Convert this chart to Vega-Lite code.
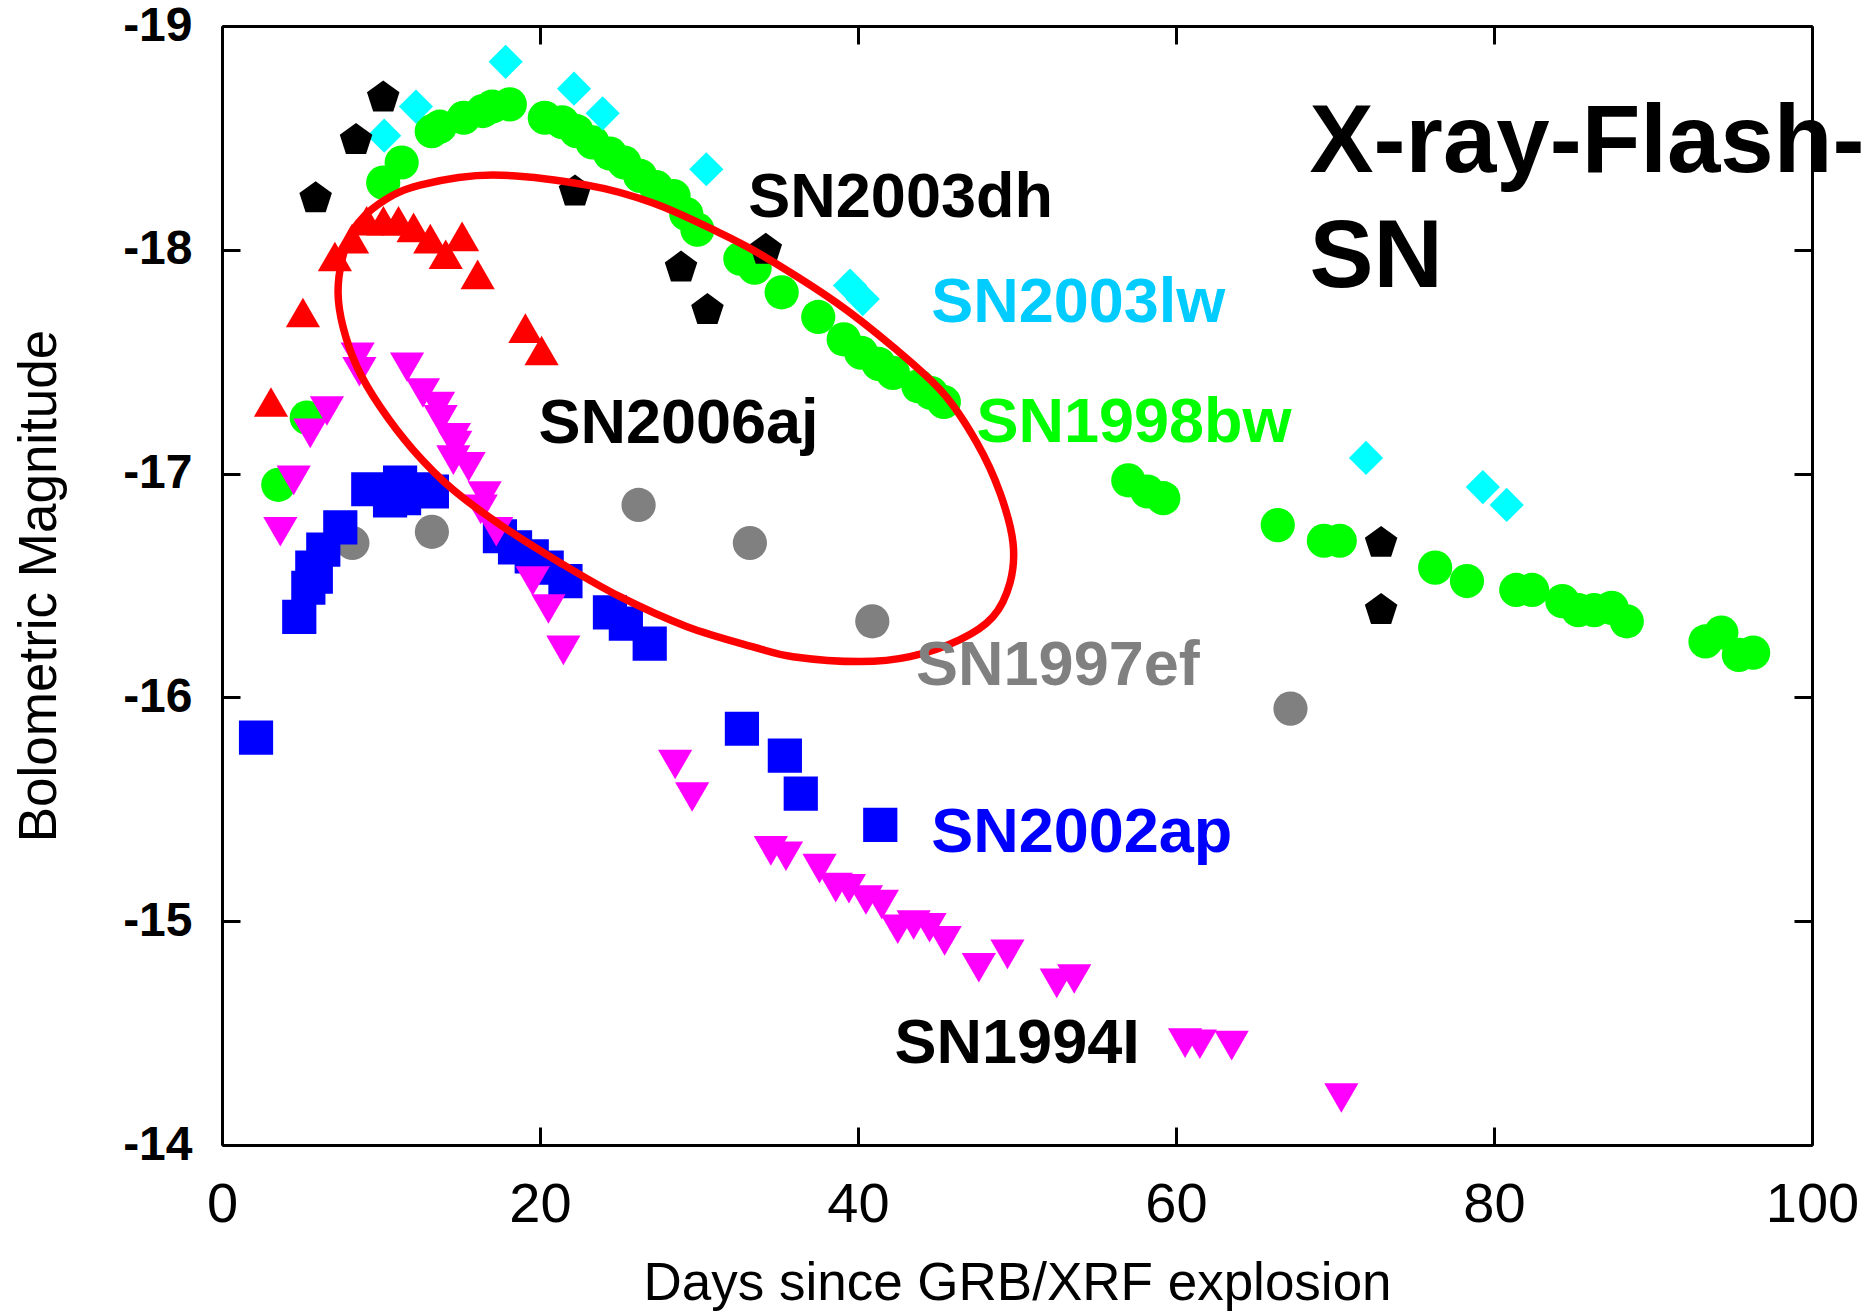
{
"$schema": "https://vega.github.io/schema/vega-lite/v6.json",
"width": 1590, "height": 1119,
"autosize": {"type": "none"},
"padding": {"left": 222, "top": 26, "right": 62, "bottom": 167},
"background": "white",
"config": {"view": {"stroke": null}, "font": "Liberation Sans"},
"datasets": {
"pts": [
{"sn":"SN1997ef","day":8.2,"mag":-16.69},{"sn":"SN1997ef","day":13.2,"mag":-16.74},{"sn":"SN1997ef","day":26.2,"mag":-16.86},{"sn":"SN1997ef","day":33.2,"mag":-16.69},{"sn":"SN1997ef","day":40.9,"mag":-16.34},{"sn":"SN1997ef","day":67.2,"mag":-15.95},
{"sn":"SN2002ap","day":2.14,"mag":-15.82},{"sn":"SN2002ap","day":4.86,"mag":-16.36},{"sn":"SN2002ap","day":5.43,"mag":-16.49},{"sn":"SN2002ap","day":5.68,"mag":-16.58},{"sn":"SN2002ap","day":5.9,"mag":-16.54},{"sn":"SN2002ap","day":6.37,"mag":-16.66},{"sn":"SN2002ap","day":7.44,"mag":-16.76},{"sn":"SN2002ap","day":9.2,"mag":-16.93},{"sn":"SN2002ap","day":10.57,"mag":-16.88},{"sn":"SN2002ap","day":11.2,"mag":-16.96},{"sn":"SN2002ap","day":11.45,"mag":-16.89},{"sn":"SN2002ap","day":12.3,"mag":-16.93},{"sn":"SN2002ap","day":13.2,"mag":-16.92},{"sn":"SN2002ap","day":17.48,"mag":-16.72},{"sn":"SN2002ap","day":18.43,"mag":-16.67},{"sn":"SN2002ap","day":19.48,"mag":-16.63},{"sn":"SN2002ap","day":20.42,"mag":-16.58},{"sn":"SN2002ap","day":21.6,"mag":-16.52},{"sn":"SN2002ap","day":24.4,"mag":-16.38},{"sn":"SN2002ap","day":25.4,"mag":-16.33},{"sn":"SN2002ap","day":26.9,"mag":-16.24},{"sn":"SN2002ap","day":32.7,"mag":-15.86},{"sn":"SN2002ap","day":35.4,"mag":-15.74},{"sn":"SN2002ap","day":36.4,"mag":-15.57},{"sn":"SN2002ap","day":41.4,"mag":-15.43},
{"sn":"SN1998bw","day":3.54,"mag":-16.95},{"sn":"SN1998bw","day":5.33,"mag":-17.25},{"sn":"SN1998bw","day":10.14,"mag":-18.3},{"sn":"SN1998bw","day":11.3,"mag":-18.39},{"sn":"SN1998bw","day":13.19,"mag":-18.53},{"sn":"SN1998bw","day":13.7,"mag":-18.55},{"sn":"SN1998bw","day":15.2,"mag":-18.59},{"sn":"SN1998bw","day":16.4,"mag":-18.62},{"sn":"SN1998bw","day":17.0,"mag":-18.64},{"sn":"SN1998bw","day":18.1,"mag":-18.65},{"sn":"SN1998bw","day":20.3,"mag":-18.59},{"sn":"SN1998bw","day":21.4,"mag":-18.57},{"sn":"SN1998bw","day":22.3,"mag":-18.53},{"sn":"SN1998bw","day":23.3,"mag":-18.48},{"sn":"SN1998bw","day":24.4,"mag":-18.43},{"sn":"SN1998bw","day":25.3,"mag":-18.39},{"sn":"SN1998bw","day":26.3,"mag":-18.33},{"sn":"SN1998bw","day":27.3,"mag":-18.28},{"sn":"SN1998bw","day":28.4,"mag":-18.24},{"sn":"SN1998bw","day":29.2,"mag":-18.16},{"sn":"SN1998bw","day":29.9,"mag":-18.09},{"sn":"SN1998bw","day":32.6,"mag":-17.96},{"sn":"SN1998bw","day":33.5,"mag":-17.92},{"sn":"SN1998bw","day":35.2,"mag":-17.81},{"sn":"SN1998bw","day":37.5,"mag":-17.7},{"sn":"SN1998bw","day":39.1,"mag":-17.6},{"sn":"SN1998bw","day":40.2,"mag":-17.54},{"sn":"SN1998bw","day":41.3,"mag":-17.49},{"sn":"SN1998bw","day":42.2,"mag":-17.45},{"sn":"SN1998bw","day":43.8,"mag":-17.39},{"sn":"SN1998bw","day":44.6,"mag":-17.36},{"sn":"SN1998bw","day":45.4,"mag":-17.32},{"sn":"SN1998bw","day":57.0,"mag":-16.97},{"sn":"SN1998bw","day":58.2,"mag":-16.92},{"sn":"SN1998bw","day":59.2,"mag":-16.89},{"sn":"SN1998bw","day":66.4,"mag":-16.77},{"sn":"SN1998bw","day":69.3,"mag":-16.7},{"sn":"SN1998bw","day":70.3,"mag":-16.7},{"sn":"SN1998bw","day":76.3,"mag":-16.58},{"sn":"SN1998bw","day":78.3,"mag":-16.52},{"sn":"SN1998bw","day":81.4,"mag":-16.48},{"sn":"SN1998bw","day":82.4,"mag":-16.48},{"sn":"SN1998bw","day":84.3,"mag":-16.43},{"sn":"SN1998bw","day":85.3,"mag":-16.39},{"sn":"SN1998bw","day":86.3,"mag":-16.39},{"sn":"SN1998bw","day":87.4,"mag":-16.4},{"sn":"SN1998bw","day":88.35,"mag":-16.34},{"sn":"SN1998bw","day":93.3,"mag":-16.25},{"sn":"SN1998bw","day":94.3,"mag":-16.29},{"sn":"SN1998bw","day":95.4,"mag":-16.19},{"sn":"SN1998bw","day":96.3,"mag":-16.2},
{"sn":"SN2003lw","day":10.2,"mag":-18.51},{"sn":"SN2003lw","day":12.2,"mag":-18.64},{"sn":"SN2003lw","day":17.84,"mag":-18.84},{"sn":"SN2003lw","day":22.14,"mag":-18.72},{"sn":"SN2003lw","day":23.94,"mag":-18.61},{"sn":"SN2003lw","day":30.46,"mag":-18.36},{"sn":"SN2003lw","day":39.5,"mag":-17.84},{"sn":"SN2003lw","day":40.3,"mag":-17.78},{"sn":"SN2003lw","day":71.95,"mag":-17.07},{"sn":"SN2003lw","day":79.3,"mag":-16.94},{"sn":"SN2003lw","day":80.8,"mag":-16.86},
{"sn":"SN2003dh","day":5.89,"mag":-18.23},{"sn":"SN2003dh","day":8.43,"mag":-18.49},{"sn":"SN2003dh","day":10.14,"mag":-18.68},{"sn":"SN2003dh","day":22.2,"mag":-18.26},{"sn":"SN2003dh","day":28.87,"mag":-17.92},{"sn":"SN2003dh","day":30.53,"mag":-17.73},{"sn":"SN2003dh","day":34.2,"mag":-18.0},{"sn":"SN2003dh","day":72.9,"mag":-16.69},{"sn":"SN2003dh","day":72.9,"mag":-16.39},
{"sn":"SN2006aj","day":3.08,"mag":-17.32},{"sn":"SN2006aj","day":5.09,"mag":-17.72},{"sn":"SN2006aj","day":7.1,"mag":-17.97},{"sn":"SN2006aj","day":8.18,"mag":-18.05},{"sn":"SN2006aj","day":9.1,"mag":-18.13},{"sn":"SN2006aj","day":10.15,"mag":-18.13},{"sn":"SN2006aj","day":11.1,"mag":-18.13},{"sn":"SN2006aj","day":12.05,"mag":-18.1},{"sn":"SN2006aj","day":13.1,"mag":-18.05},{"sn":"SN2006aj","day":14.07,"mag":-17.98},{"sn":"SN2006aj","day":15.1,"mag":-18.06},{"sn":"SN2006aj","day":16.08,"mag":-17.89},{"sn":"SN2006aj","day":19.08,"mag":-17.65},{"sn":"SN2006aj","day":20.1,"mag":-17.55},
{"sn":"SN1994I","day":3.67,"mag":-16.74},{"sn":"SN1994I","day":4.51,"mag":-16.97},{"sn":"SN1994I","day":5.55,"mag":-17.18},{"sn":"SN1994I","day":6.6,"mag":-17.28},{"sn":"SN1994I","day":8.53,"mag":-17.52},{"sn":"SN1994I","day":8.64,"mag":-17.455},{"sn":"SN1994I","day":11.64,"mag":-17.475},{"sn":"SN1994I","day":12.64,"mag":-17.36},{"sn":"SN1994I","day":13.59,"mag":-17.3},{"sn":"SN1994I","day":13.75,"mag":-17.24},{"sn":"SN1994I","day":14.59,"mag":-17.16},{"sn":"SN1994I","day":14.67,"mag":-17.125},{"sn":"SN1994I","day":14.55,"mag":-17.06},{"sn":"SN1994I","day":15.51,"mag":-17.03},{"sn":"SN1994I","day":16.27,"mag":-16.84},{"sn":"SN1994I","day":16.52,"mag":-16.9},{"sn":"SN1994I","day":17.25,"mag":-16.74},{"sn":"SN1994I","day":19.54,"mag":-16.52},{"sn":"SN1994I","day":20.53,"mag":-16.395},{"sn":"SN1994I","day":21.47,"mag":-16.21},{"sn":"SN1994I","day":28.5,"mag":-15.7},{"sn":"SN1994I","day":29.57,"mag":-15.555},{"sn":"SN1994I","day":34.52,"mag":-15.314},{"sn":"SN1994I","day":35.47,"mag":-15.29},{"sn":"SN1994I","day":37.58,"mag":-15.235},{"sn":"SN1994I","day":38.6,"mag":-15.15},{"sn":"SN1994I","day":39.43,"mag":-15.145},{"sn":"SN1994I","day":40.5,"mag":-15.095},{"sn":"SN1994I","day":41.5,"mag":-15.074},{"sn":"SN1994I","day":42.5,"mag":-14.964},{"sn":"SN1994I","day":43.5,"mag":-14.983},{"sn":"SN1994I","day":44.5,"mag":-14.971},{"sn":"SN1994I","day":45.45,"mag":-14.912},{"sn":"SN1994I","day":47.6,"mag":-14.792},{"sn":"SN1994I","day":49.4,"mag":-14.852},{"sn":"SN1994I","day":52.5,"mag":-14.722},{"sn":"SN1994I","day":53.6,"mag":-14.742},{"sn":"SN1994I","day":60.57,"mag":-14.455},{"sn":"SN1994I","day":61.5,"mag":-14.45},{"sn":"SN1994I","day":63.5,"mag":-14.444},{"sn":"SN1994I","day":70.4,"mag":-14.21}
],
"ellipse": [
{"i":1,"day":17.04,"mag":-18.334},{"i":2,"day":22.96,"mag":-18.289},{"i":3,"day":27.11,"mag":-18.209},{"i":4,"day":31.32,"mag":-18.075},{"i":5,"day":34.15,"mag":-17.968},{"i":6,"day":38.68,"mag":-17.762},{"i":7,"day":42.2,"mag":-17.566},{"i":8,"day":45.35,"mag":-17.36},{"i":9,"day":47.48,"mag":-17.137},{"i":10,"day":48.93,"mag":-16.914},{"i":11,"day":49.75,"mag":-16.69},{"i":12,"day":49.56,"mag":-16.512},{"i":13,"day":48.49,"mag":-16.36},{"i":14,"day":46.42,"mag":-16.258},{"i":15,"day":43.27,"mag":-16.182},{"i":16,"day":40.13,"mag":-16.16},{"i":17,"day":35.91,"mag":-16.182},{"i":18,"day":33.4,"mag":-16.226},{"i":19,"day":29.25,"mag":-16.316},{"i":20,"day":25.03,"mag":-16.45},{"i":21,"day":21.26,"mag":-16.602},{"i":22,"day":17.67,"mag":-16.763},{"i":23,"day":14.53,"mag":-16.928},{"i":24,"day":12.01,"mag":-17.107},{"i":25,"day":9.94,"mag":-17.299},{"i":26,"day":8.49,"mag":-17.477},{"i":27,"day":7.61,"mag":-17.656},{"i":28,"day":7.3,"mag":-17.808},{"i":29,"day":7.55,"mag":-17.955},{"i":30,"day":8.24,"mag":-18.089},{"i":31,"day":9.94,"mag":-18.209},{"i":32,"day":12.45,"mag":-18.289}
],
"labels": [
{"label":"SN2003dh","day":33.1,"mag":-18.148},{"label":"SN2003lw","day":44.6,"mag":-17.679},{"label":"SN1998bw","day":47.45,"mag":-17.143},{"label":"SN2006aj","day":19.9,"mag":-17.135},{"label":"SN1997ef","day":43.65,"mag":-16.055},{"label":"SN2002ap","day":44.6,"mag":-15.31},{"label":"SN1994I","day":42.3,"mag":-14.365}
],
"title": [
{"label":"X-ray-Flash-","day":68.4,"mag":-18.349},{"label":"SN","day":68.4,"mag":-17.835}
]
},
"layer": [
{
"data": {"name": "pts"},
"mark": {"type": "point", "filled": true, "opacity": 1, "size": 1170, "strokeWidth": 0},
"encoding": {
"x": {"field": "day", "type": "quantitative", "scale": {"domain": [0, 100], "nice": false, "zero": false},
 "axis": {"orient": "bottom", "values": [0, 20, 40, 60, 80, 100], "title": "Days since GRB/XRF explosion", "titleFontSize": 53, "titleFontWeight": "normal", "titleColor": "black", "titlePadding": 25, "labelFontSize": 56, "labelFontWeight": "normal", "labelColor": "black", "labelPadding": 50, "tickSize": -18, "tickWidth": 3, "tickColor": "black", "domainColor": "black", "domainWidth": 3, "grid": false, "labelFlush": false, "labelOverlap": false}},
"y": {"field": "mag", "type": "quantitative", "scale": {"domain": [-19, -14], "reverse": true, "nice": false, "zero": false},
 "axis": {"orient": "left", "values": [-19, -18, -17, -16, -15, -14], "labelExpr": "'-' + abs(datum.value)", "title": "Bolometric Magnitude", "titleFontSize": 53, "titleFontWeight": "normal", "titleColor": "black", "titlePadding": 56, "labelFontSize": 48, "labelFontWeight": "bold", "labelColor": "black", "labelPadding": 48, "tickSize": -18, "tickWidth": 3, "tickColor": "black", "domainColor": "black", "domainWidth": 3, "grid": false, "labelFlush": false, "labelOverlap": false}},
"color": {"field": "sn", "type": "nominal", "legend": null, "scale": {"domain": ["SN1997ef", "SN2002ap", "SN1998bw", "SN2003lw", "SN2003dh", "SN2006aj", "SN1994I"], "range": ["#808080", "#0000FF", "#00FF00", "#00FFFF", "#000000", "#FF0000", "#FF00FF"]}},
"shape": {"field": "sn", "type": "nominal", "legend": null, "scale": {"domain": ["SN1997ef", "SN2002ap", "SN1998bw", "SN2003lw", "SN2003dh", "SN2006aj", "SN1994I"], "range": ["circle", "square", "circle", "diamond", "M0,-1L0.951,-0.309L0.588,0.809L-0.588,0.809L-0.951,-0.309Z", "triangle-up", "triangle-down"]}}
}
},
{
"data": {"name": "ellipse"},
"mark": {"type": "line", "color": "#FF0000", "strokeWidth": 7.5, "interpolate": "cardinal-closed"},
"encoding": {
"x": {"field": "day", "type": "quantitative", "axis": {"orient": "top", "values": [0, 20, 40, 60, 80, 100], "labels": false, "title": null, "tickSize": -18, "tickWidth": 3, "tickColor": "black", "domainColor": "black", "domainWidth": 3, "grid": false}},
"y": {"field": "mag", "type": "quantitative", "axis": {"orient": "right", "values": [-19, -18, -17, -16, -15, -14], "labels": false, "title": null, "tickSize": -18, "tickWidth": 3, "tickColor": "black", "domainColor": "black", "domainWidth": 3, "grid": false}},
"order": {"field": "i", "type": "quantitative"}
}
},
{
"data": {"name": "labels"},
"mark": {"type": "text", "align": "left", "baseline": "alphabetic", "fontSize": 63, "fontWeight": "bold", "font": "Liberation Sans"},
"encoding": {
"x": {"field": "day", "type": "quantitative", "axis": null},
"y": {"field": "mag", "type": "quantitative", "axis": null},
"text": {"field": "label"},
"color": {"field": "label", "type": "nominal", "legend": null, "scale": {"domain": ["SN2003dh", "SN2003lw", "SN1998bw", "SN2006aj", "SN1997ef", "SN2002ap", "SN1994I"], "range": ["#000000", "#00CCFF", "#00FF00", "#000000", "#808080", "#0000FF", "#000000"]}}
}
},
{
"data": {"name": "title"},
"mark": {"type": "text", "align": "left", "baseline": "alphabetic", "fontSize": 96, "fontWeight": "bold", "font": "Liberation Sans", "color": "#000000"},
"encoding": {
"x": {"field": "day", "type": "quantitative", "axis": null},
"y": {"field": "mag", "type": "quantitative", "axis": null},
"text": {"field": "label"}
}
}
],
"resolve": {"axis": {"x": "independent", "y": "independent"}, "scale": {"color": "independent"}}
}
